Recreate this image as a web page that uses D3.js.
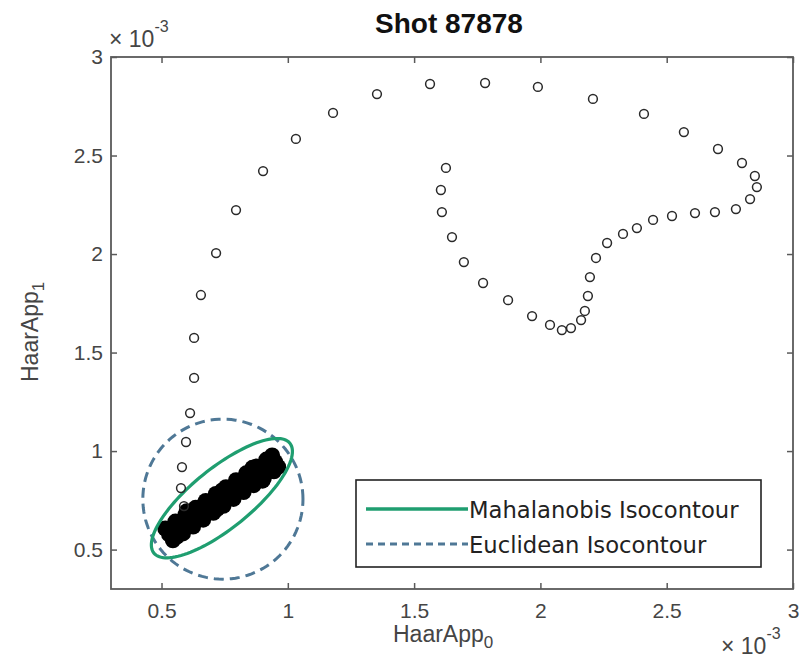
<!DOCTYPE html>
<html>
<head>
<meta charset="utf-8">
<script src="https://cdn.jsdelivr.net/npm/d3@7"></script>
<style>
  body { margin: 0; background: #fff; }
  svg { display: block; }
</style>
</head>
<body>
<div id="vis"></div>
<script>
// values are in units of 1e-3
const titleText = "Shot 87878";
const xTicks = [0.5, 1, 1.5, 2, 2.5, 3];
const yTicks = [0.5, 1, 1.5, 2, 2.5, 3];

// trajectory of the shot (open circles)
const trajX = [0.589, 0.577, 0.581, 0.597, 0.613, 0.629, 0.629, 0.656, 0.716, 0.795,
  0.902, 1.032, 1.179, 1.353, 1.563, 1.781, 1.990, 2.208, 2.410, 2.568,
  2.703, 2.798, 2.849, 2.857, 2.830, 2.774, 2.691, 2.612, 2.521, 2.446,
  2.382, 2.327, 2.264, 2.220, 2.196, 2.188, 2.176, 2.161, 2.121, 2.085,
  2.038, 1.967, 1.872, 1.773, 1.697, 1.650, 1.610, 1.606, 1.626];
const trajY = [0.721, 0.812, 0.919, 1.046, 1.193, 1.371, 1.574, 1.792, 2.005, 2.223,
  2.421, 2.584, 2.716, 2.812, 2.863, 2.868, 2.848, 2.787, 2.711, 2.619,
  2.533, 2.462, 2.396, 2.340, 2.279, 2.228, 2.213, 2.208, 2.193, 2.173,
  2.132, 2.102, 2.056, 1.980, 1.883, 1.787, 1.711, 1.665, 1.624, 1.614,
  1.640, 1.685, 1.766, 1.853, 1.959, 2.086, 2.213, 2.325, 2.437];

// dense cluster of normal-operation samples (filled black)
const clusterX = [0.53, 0.57, 0.61, 0.65, 0.69, 0.73, 0.77, 0.81, 0.85, 0.89, 0.93, 0.95,
  0.515, 0.555, 0.595, 0.635, 0.675, 0.715, 0.755, 0.795, 0.835, 0.875, 0.915, 0.938,
  0.545, 0.585, 0.625, 0.665, 0.705, 0.745, 0.785, 0.825, 0.865, 0.905, 0.945, 0.962,
  0.60, 0.72, 0.86, 0.66, 0.80, 0.56, 0.74, 0.90];
const clusterY = [0.577, 0.612, 0.647, 0.682, 0.717, 0.752, 0.787, 0.822, 0.857, 0.892, 0.927, 0.945,
  0.607, 0.642, 0.677, 0.712, 0.747, 0.782, 0.817, 0.852, 0.887, 0.922, 0.957, 0.978,
  0.547, 0.582, 0.617, 0.652, 0.687, 0.722, 0.757, 0.792, 0.827, 0.862, 0.897, 0.920,
  0.695, 0.705, 0.915, 0.720, 0.800, 0.565, 0.800, 0.850];

// isocontours
const mahaCenter = [0.739, 0.761];
const mahaMajor = [0.269, 0.279];
const mahaMinor = [0.075, -0.118];
const euclCenter = [0.743, 0.756];
const euclRadii = [0.317, 0.406];

const legendLabels = ["Mahalanobis Isocontour", "Euclidean Isocontour"];

const width = 804, height = 660;
const margin = {left: 111, right: 11, top: 57, bottom: 71};

const svg = d3.select("#vis").append("svg")
  .attr("width", width)
  .attr("height", height);

const x = d3.scaleLinear()
  .domain([0.3, 3])
  .range([margin.left, width - margin.right]);

const y = d3.scaleLinear()
  .domain([0.3, 3])
  .range([height - margin.bottom, margin.top]);

const green = "#1f9e70";
const blueGray = "#4f7896";
const axisColor = "#5a5a5a";
const labelFont = "'Liberation Sans', Arial, sans-serif";

// cluster
svg.append("g")
  .selectAll("circle")
  .data(d3.range(clusterX.length))
  .join("circle")
  .attr("cx", i => x(clusterX[i]))
  .attr("cy", i => y(clusterY[i]))
  .attr("r", 8)
  .attr("fill", "#000");

// ellipses
const steps = d3.range(0, 121).map(k => k / 120 * 2 * Math.PI);
const line = d3.line()
  .x(d => x(d[0]))
  .y(d => y(d[1]))
  .curve(d3.curveLinearClosed);

const euclPts = steps.map(t => [
  euclCenter[0] + euclRadii[0] * Math.cos(t),
  euclCenter[1] + euclRadii[1] * Math.sin(t)
]);
svg.append("path")
  .attr("d", line(euclPts))
  .attr("fill", "none")
  .attr("stroke", blueGray)
  .attr("stroke-width", 3)
  .attr("stroke-dasharray", "10,6");

const mahaPts = steps.map(t => [
  mahaCenter[0] + mahaMajor[0] * Math.cos(t) + mahaMinor[0] * Math.sin(t),
  mahaCenter[1] + mahaMajor[1] * Math.cos(t) + mahaMinor[1] * Math.sin(t)
]);
svg.append("path")
  .attr("d", line(mahaPts))
  .attr("fill", "none")
  .attr("stroke", green)
  .attr("stroke-width", 3.2);

// trajectory
svg.append("g")
  .selectAll("circle")
  .data(d3.range(trajX.length))
  .join("circle")
  .attr("cx", i => x(trajX[i]))
  .attr("cy", i => y(trajY[i]))
  .attr("r", 4.4)
  .attr("fill", "none")
  .attr("stroke", "#2a2a2a")
  .attr("stroke-width", 1.5);

// axes (ticks pointing inward on all four sides)
const styleAxis = g => {
  g.select(".domain").remove();
  g.selectAll(".tick line").attr("stroke", axisColor).attr("stroke-width", 1.5);
  g.selectAll(".tick text")
    .attr("fill", "#454545")
    .style("font-family", labelFont)
    .style("font-size", "21px");
};

svg.append("g")
  .attr("transform", `translate(0, ${height - margin.bottom})`)
  .call(d3.axisBottom(x).tickValues(xTicks).tickFormat(d3.format("")).tickSize(-6).tickSizeOuter(0).tickPadding(14))
  .call(styleAxis);

svg.append("g")
  .attr("transform", `translate(0, ${margin.top})`)
  .call(d3.axisTop(x).tickValues(xTicks).tickFormat("").tickSize(-6).tickSizeOuter(0))
  .call(styleAxis);

svg.append("g")
  .attr("transform", `translate(${margin.left}, 0)`)
  .call(d3.axisLeft(y).tickValues(yTicks).tickFormat(d3.format("")).tickSize(-6).tickSizeOuter(0).tickPadding(8))
  .call(styleAxis);

svg.append("g")
  .attr("transform", `translate(${width - margin.right}, 0)`)
  .call(d3.axisRight(y).tickValues(yTicks).tickFormat("").tickSize(-6).tickSizeOuter(0))
  .call(styleAxis);

// plot box
svg.append("rect")
  .attr("x", x(0.3))
  .attr("y", y(3))
  .attr("width", x(3) - x(0.3))
  .attr("height", y(0.3) - y(3))
  .attr("fill", "none")
  .attr("stroke", axisColor)
  .attr("stroke-width", 1.8);

// exponent labels
const expo = (px, py) => {
  const t = svg.append("text")
    .attr("x", px).attr("y", py)
    .attr("fill", "#454545")
    .style("font-family", labelFont)
    .style("font-size", "23px");
  t.append("tspan").text("\u00d7 10");
  t.append("tspan").attr("dy", -15).style("font-size", "16px").text("-3");
};
expo(109, 47);
expo(721, 654);

// title
svg.append("text")
  .attr("x", 449)
  .attr("y", 33)
  .attr("text-anchor", "middle")
  .attr("fill", "#111")
  .style("font-family", labelFont)
  .style("font-weight", "bold")
  .style("font-size", "28px")
  .text(titleText);

// axis labels
const xl = svg.append("text")
  .attr("x", 393)
  .attr("y", 642)
  .attr("fill", "#454545")
  .style("font-family", labelFont)
  .style("font-size", "23px");
xl.append("tspan").text("HaarApp");
xl.append("tspan").attr("dy", 6).style("font-size", "17px").text("0");

const yl = svg.append("text")
  .attr("transform", "translate(38, 382) rotate(-90)")
  .attr("fill", "#454545")
  .style("font-family", labelFont)
  .style("font-size", "23px");
yl.append("tspan").text("HaarApp");
yl.append("tspan").attr("dy", 6).style("font-size", "17px").text("1");

// legend
const legend = svg.append("g").attr("transform", "translate(356, 480)");
legend.append("rect")
  .attr("width", 405)
  .attr("height", 87)
  .attr("fill", "#fff")
  .attr("stroke", "#222")
  .attr("stroke-width", 1.6);

const legendStyles = [
  {stroke: green, dash: null, w: 3.5},
  {stroke: blueGray, dash: "7,5", w: 3}
];
legendLabels.forEach((lab, i) => {
  const ly = 29 + i * 35;
  legend.append("line")
    .attr("x1", 10).attr("x2", 112)
    .attr("y1", ly).attr("y2", ly)
    .attr("stroke", legendStyles[i].stroke)
    .attr("stroke-width", legendStyles[i].w)
    .attr("stroke-dasharray", legendStyles[i].dash);
  legend.append("text")
    .attr("x", 113)
    .attr("y", ly + 9)
    .attr("fill", "#222")
    .style("font-family", "'DejaVu Sans', sans-serif")
    .style("font-size", "22.7px")
    .text(lab);
});
</script>
</body>
</html>
